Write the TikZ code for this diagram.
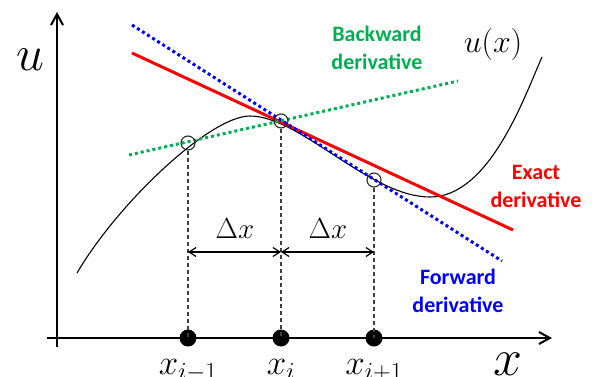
\RequirePackage{fix-cm}
\documentclass[tikz,border=0pt]{standalone}
\usepackage{fontspec}
\newfontfamily\labfont{Carlito}
\usetikzlibrary{arrows.meta}
\definecolor{pgreen}{HTML}{00B050}
\definecolor{pred}{HTML}{FF0000}
\definecolor{pblue}{HTML}{0000FF}
\definecolor{dgray}{HTML}{404040}
\begin{document}
\begin{tikzpicture}[x=1pt,y=-1pt,
  axis/.style={line width=2.4pt,-{Straight Barb[length=11pt,width=12pt,line width=2pt]}},
  ptdot/.style={circle,fill=black,inner sep=0pt,minimum size=17pt},
  ring/.style={circle,draw=black!85,line width=1.1pt,inner sep=0pt,minimum size=14pt},
  guide/.style={dgray,line width=1.2pt,dash pattern=on 4pt off 3pt},
  dotline/.style={line width=3pt,dash pattern=on 3pt off 3pt},
  span/.style={line width=1.3pt,{Straight Barb[length=7pt,width=9pt,line width=1.2pt]}-{Straight Barb[length=7pt,width=9pt,line width=1.2pt]}},
  txt/.style={font=\labfont\bfseries\fontsize{22}{28}\selectfont,align=center,inner sep=0pt},
  mth/.style={inner sep=0pt,anchor=base}]
\useasboundingbox (0,0) rectangle (592,376);
% axes
\coordinate (yb) at (57,347);
\coordinate (yt) at (57,12);
\coordinate (xl) at (47,338);
\coordinate (xr) at (552,338);
\draw[axis] (yb) -- (yt);
\draw[axis] (xl) -- (xr);
% curve
\coordinate (k0) at (77,273);
\coordinate (k1) at (250,116);
\coordinate (k2) at (430,197);
\coordinate (k3) at (542,57);
\draw[line width=1.1pt] (k0) .. controls (118,203) and (210,116) .. (k1)
  .. controls (300,116) and (370,197) .. (k2)
  .. controls (490,197) and (525,95) .. (k3);
% tangent / secant lines
\coordinate (ra) at (132,53);
\coordinate (rb) at (513,230);
\coordinate (ba) at (132,25);
\coordinate (bb) at (502,261);
\coordinate (ga) at (129,155);
\coordinate (gb) at (458,81);
\draw[pred,line width=3pt] (ra) -- (rb);
\draw[pblue,dotline] (ba) -- (bb);
\draw[pgreen,dotline] (ga) -- (gb);
% points
\node[ring] (c1) at (188,143) {};
\node[ring] (c2) at (281,121) {};
\node[ring] (c3) at (374,180) {};
\node[ptdot] (d1) at (188,338) {};
\node[ptdot] (d2) at (281,338) {};
\node[ptdot] (d3) at (374,338) {};
\draw[guide] (c1.south) -- (d1.center);
\draw[guide] (c2.south) -- (d2.center);
\draw[guide] (c3.south) -- (d3.center);
% delta arrows
\coordinate (a1) at (188,252);
\coordinate (a2) at (281,252);
\coordinate (a3) at (374,252);
\draw[span] (a1) -- (a2);
\draw[span] (a2) -- (a3);
\node[mth,font=\fontsize{29}{29}\selectfont] (dx1) at (235,238) {$\Delta x$};
\node[mth,font=\fontsize{29}{29}\selectfont] (dx2) at (328,238) {$\Delta x$};
% axis labels
\node[mth,font=\fontsize{50}{50}\selectfont] (ul) at (30,70) {$u$};
\node[mth,font=\fontsize{52}{52}\selectfont] (xlab) at (508,375) {$x$};
\node[mth,font=\fontsize{32}{32}\selectfont] (ux) at (493,52) {$u(x)$};
\node[mth,font=\fontsize{35}{35}\selectfont] (l1) at (188,374) {$x_{i-1}$};
\node[mth,font=\fontsize{35}{35}\selectfont] (l2) at (281,374) {$x_{i}$};
\node[mth,font=\fontsize{35}{35}\selectfont] (l3) at (374,374) {$x_{i+1}$};
% text labels
\node[txt,text=pgreen] (bw) at (377,48) {Backward\\derivative};
\node[txt,text=pred] (ex) at (536,186) {Exact\\derivative};
\node[txt,text=pblue] (fw) at (458,291) {Forward\\derivative};
\end{tikzpicture}
\end{document}
